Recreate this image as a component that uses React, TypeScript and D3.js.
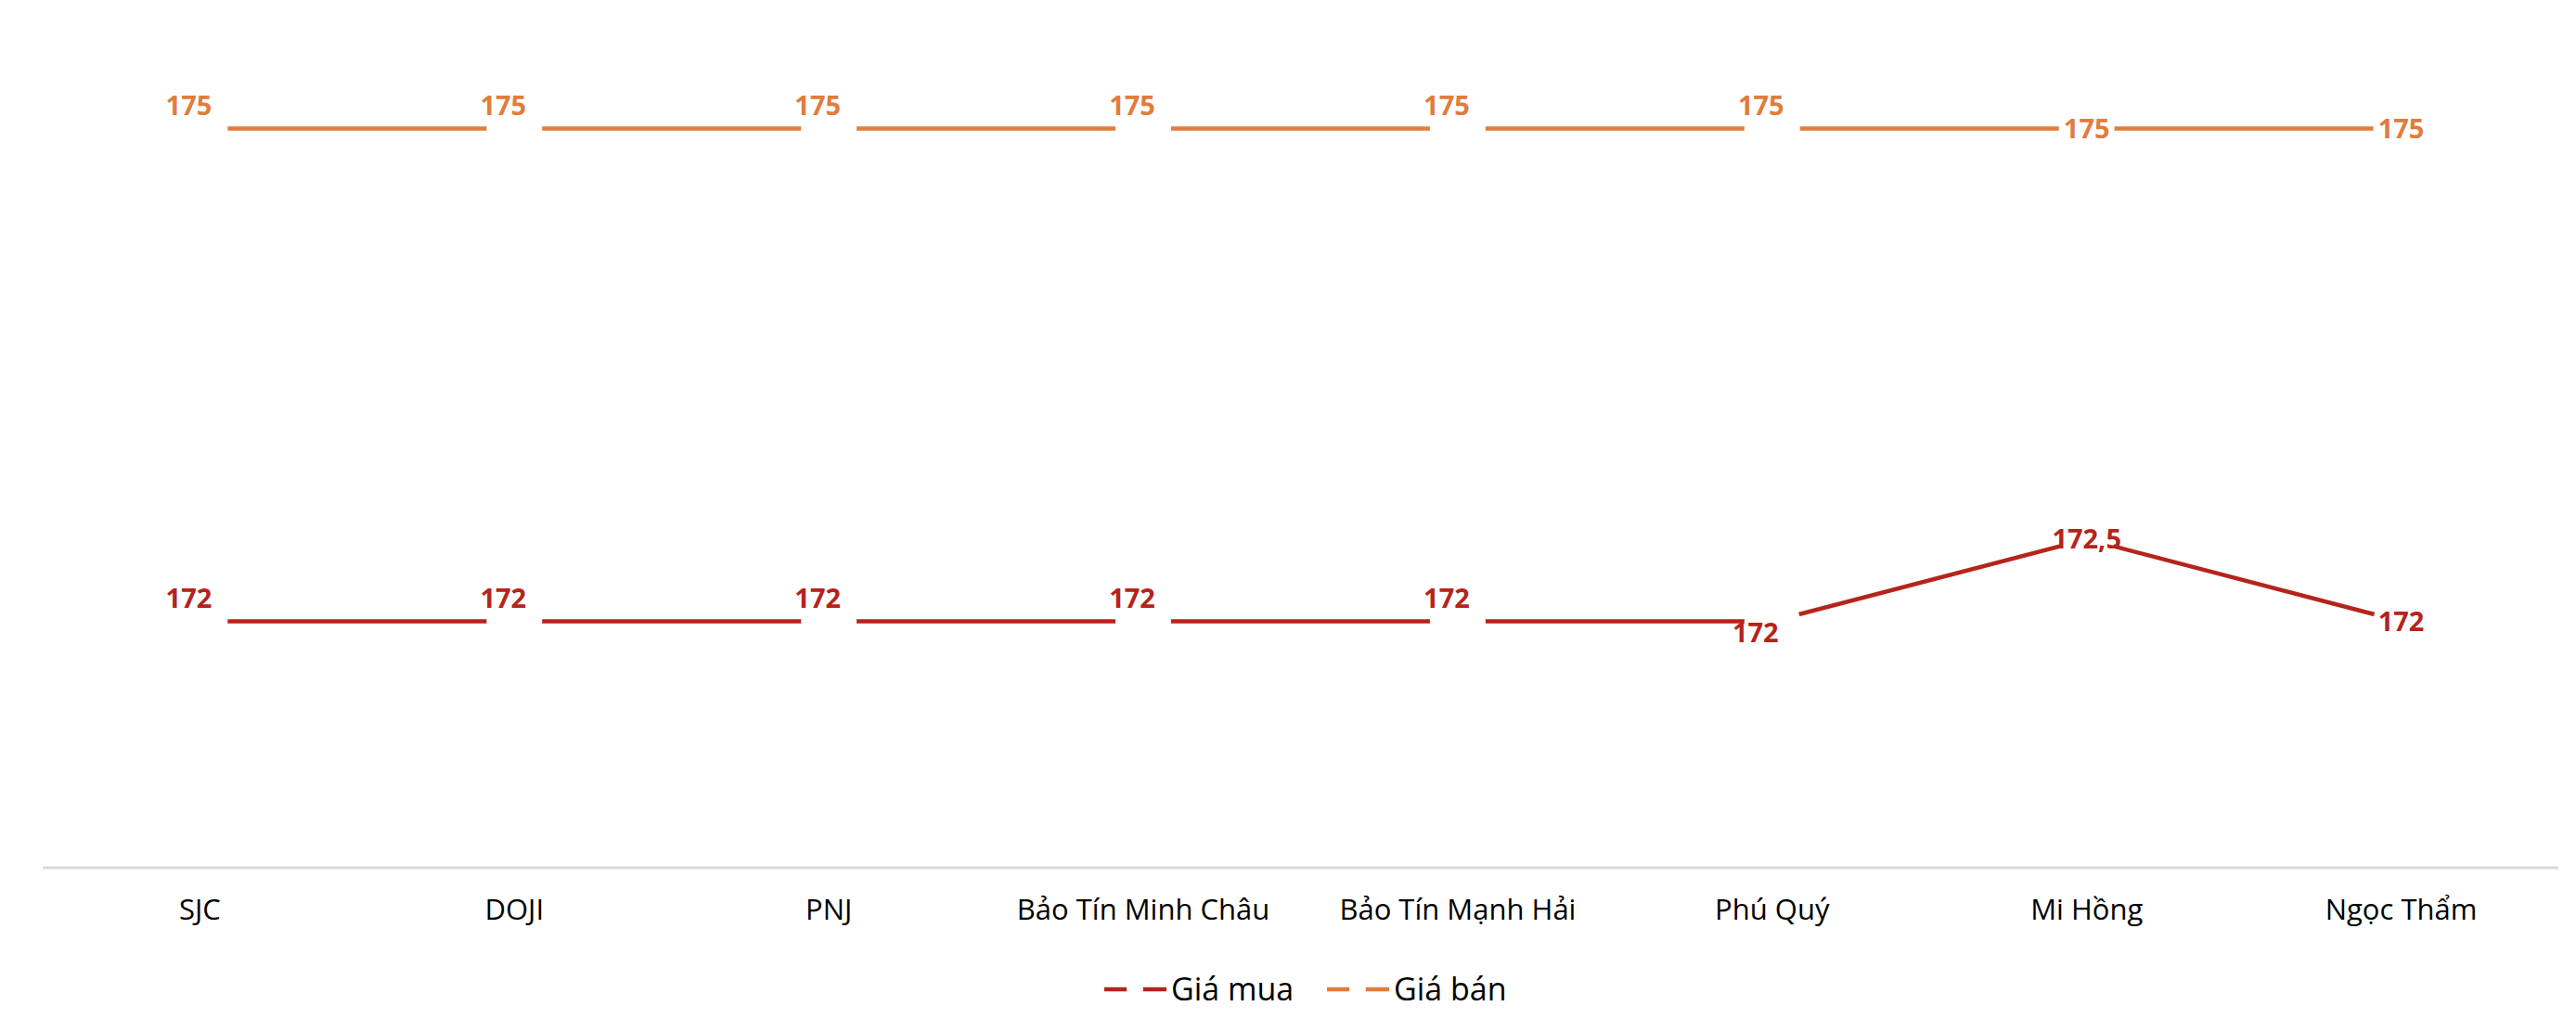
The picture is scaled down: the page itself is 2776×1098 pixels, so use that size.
import * as d3 from 'd3';

const categories = [
  'SJC',
  'DOJI',
  'PNJ',
  'Bảo Tín Minh Châu',
  'Bảo Tín Mạnh Hải',
  'Phú Quý',
  'Mi Hồng',
  'Ngọc Thẩm',
];

// giá mua / giá bán (triệu đồng / lượng)
const buyPrices = [172, 172, 172, 172, 172, 172, 172.5, 172];
const sellPrices = [175, 175, 175, 175, 175, 175, 175, 175];

// where each data label sits relative to its point
const buyLabelPlace = ['above', 'above', 'above', 'above', 'above', 'below', 'center', 'center'];
const sellLabelPlace = ['above', 'above', 'above', 'above', 'above', 'above', 'center', 'center'];

const seriesNames = ['Giá mua', 'Giá bán'];

const width = 2776;
const height = 1098;
const margin = { top: 50, right: 19, bottom: 163, left: 46 };

const RED = '#B5241B';
const ORANGE = '#E07D3C';
const FONT = '"Open Sans", "Noto Sans", sans-serif';

const placeOffset: Record<string, [number, number]> = {
  above: [-12, -25],
  below: [-18, 12],
  center: [0, 0],
};

export default function App() {
  const x = d3
    .scaleBand<string>()
    .domain(categories)
    .range([margin.left, width - margin.right]);

  const y = d3
    .scaleLinear()
    .domain([170.5, 175.5])
    .range([height - margin.bottom, margin.top]);

  const cx = (c: string) => (x(c) ?? 0) + x.bandwidth() / 2;

  const line = d3
    .line<number>()
    .x((_, i) => cx(categories[i]))
    .y((d) => y(d));

  const series = [
    { name: seriesNames[0], values: buyPrices, color: RED, place: buyLabelPlace },
    { name: seriesNames[1], values: sellPrices, color: ORANGE, place: sellLabelPlace },
  ];

  const fmt = (v: number) => String(v).replace('.', ',');
  const axisY = height - margin.bottom;

  // legend layout
  const legendY = 1066;
  const legendItems = [
    { name: seriesNames[0], color: RED, x0: 1190 },
    { name: seriesNames[1], color: ORANGE, x0: 1430 },
  ];

  return (
    <svg
      width={width}
      height={height}
      style={{ position: 'absolute', left: 0, top: 0, background: '#fff' }}
      fontFamily={FONT}
    >
      {/* category axis */}
      <line
        x1={margin.left}
        x2={width - margin.right}
        y1={axisY}
        y2={axisY}
        stroke="#D9D9D9"
        strokeWidth={3}
      />
      {categories.map((c) => (
        <text
          key={c}
          x={cx(c)}
          y={980}
          dy="0.35em"
          textAnchor="middle"
          fontSize={31}
          fill="#000"
        >
          {c}
        </text>
      ))}

      {/* lines */}
      {series.map((s) => (
        <path
          key={s.name}
          d={line(s.values) ?? ''}
          fill="none"
          stroke={s.color}
          strokeWidth={4.5}
        />
      ))}

      {/* white markers that break the line at each point */}
      {series.map((s) =>
        s.values.map((v, i) => (
          <circle
            key={s.name + i}
            cx={cx(categories[i])}
            cy={y(v)}
            r={30}
            fill="#fff"
          />
        ))
      )}

      {/* data labels */}
      {series.map((s) =>
        s.values.map((v, i) => {
          const [dx, dy] = placeOffset[s.place[i]];
          return (
            <text
              key={'l' + s.name + i}
              x={cx(categories[i]) + dx}
              y={y(v) + dy}
              dy="0.35em"
              textAnchor="middle"
              fontSize={29}
              fontWeight="bold"
              fill={s.color}
            >
              {fmt(v)}
            </text>
          );
        })
      )}

      {/* legend */}
      {legendItems.map((l) => (
        <g key={l.name}>
          <line
            x1={l.x0}
            x2={l.x0 + 67}
            y1={legendY}
            y2={legendY}
            stroke={l.color}
            strokeWidth={4.5}
          />
          <circle cx={l.x0 + 33} cy={legendY} r={9} fill="#fff" />
          <text x={l.x0 + 72} y={legendY} dy="0.35em" fontSize={34} fill="#000">
            {l.name}
          </text>
        </g>
      ))}
    </svg>
  );
}
